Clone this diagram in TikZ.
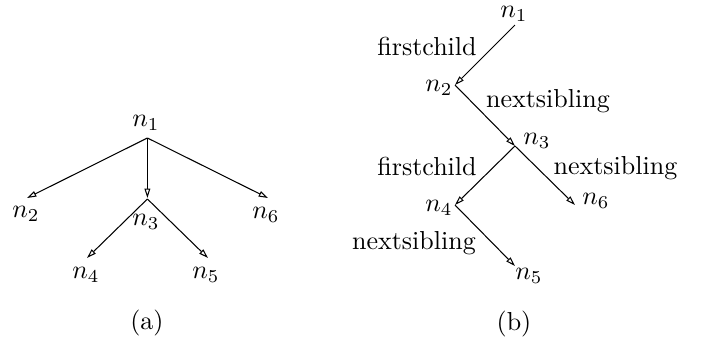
\documentclass[tikz,border=0pt]{standalone}
\usetikzlibrary{arrows.meta}
\begin{document}
\begin{tikzpicture}[x=0.3846pt,y=-0.3846pt,
  edge/.style={line width=0.4pt,-{Triangle[open,length=3.6pt,width=2.2pt]}},
  lbl/.style={inner sep=0pt}]
\useasboundingbox (0,0) rectangle (701,341);
% panel (a)
\coordinate (p1) at (147.4,138);
\coordinate (p2) at (27,198);
\coordinate (p3) at (147.4,198);
\coordinate (p3s) at (147.4,199);
\coordinate (p6) at (268,198);
\coordinate (p4) at (87,258);
\coordinate (p5) at (208,258);
\node[lbl] (a1) at (146,123) {$n_1$};
\node[lbl] (a2) at (26,214) {$n_2$};
\node[lbl] (a3) at (146,222) {$n_3$};
\node[lbl] (a6) at (266,215) {$n_6$};
\node[lbl] (a4) at (86,275) {$n_4$};
\node[lbl] (a5) at (206,275) {$n_5$};
\draw[edge] (p1) -- (p2);
\draw[edge] (p1) -- (p3);
\draw[edge] (p1) -- (p6);
\draw[edge] (p3s) -- (p4);
\draw[edge] (p3s) -- (p5);
\node[lbl] (capa) at (147,323) {(a)};
% panel (b)
\coordinate (q1) at (515,25);
\coordinate (q2) at (455,85);
\coordinate (q3) at (515,146);
\coordinate (q4) at (455,205);
\coordinate (q6) at (575,205);
\coordinate (q5) at (515,266);
\node[lbl] (b1) at (514,14) {$n_1$};
\node[lbl] (b2) at (439,88) {$n_2$};
\node[lbl] (b3) at (537,141) {$n_3$};
\node[lbl] (b4) at (439,208) {$n_4$};
\node[lbl] (b6) at (596,201) {$n_6$};
\node[lbl] (b5) at (529,276) {$n_5$};
\draw[edge] (q1) -- (q2);
\draw[edge] (q2) -- (q3);
\draw[edge] (q3) -- (q4);
\draw[edge] (q3) -- (q6);
\draw[edge] (q4) -- (q5);
\node[lbl] (l1) at (427,46) {firstchild};
\node[lbl] (l2) at (548,101.5) {nextsibling};
\node[lbl] (l3) at (427,166) {firstchild};
\node[lbl] (l4) at (615.5,168) {nextsibling};
\node[lbl] (l5) at (414,243) {nextsibling};
\node[lbl] (capb) at (514,324) {(b)};
\end{tikzpicture}
\end{document}
